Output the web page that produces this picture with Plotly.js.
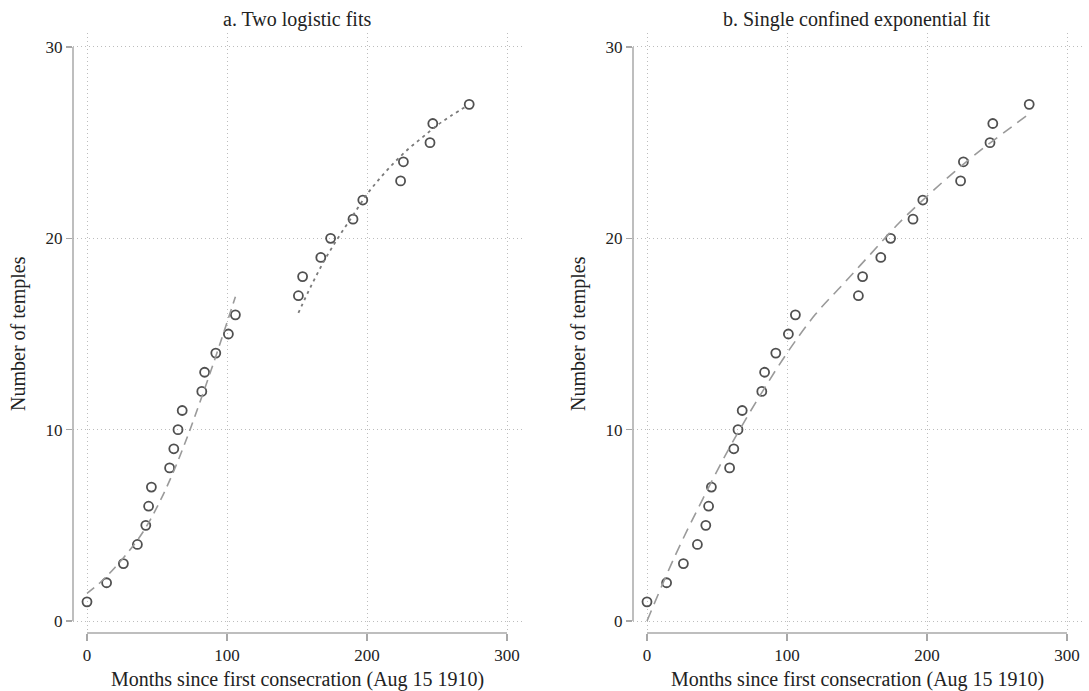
<!DOCTYPE html>
<html>
<head>
<meta charset="utf-8">
<script src="https://cdn.plot.ly/plotly-3.0.1.min.js"></script>
<style>html,body{margin:0;padding:0;background:#fff;}#chart{width:1089px;height:691px;}</style>
</head>
<body>
<div id="chart"></div>
<script>
// Observed data: months since first consecration and cumulative temples
const months  = [0,14,26,36,42,44,46,59,62,65,68,82,84,92,101,106,151,154,167,174,190,197,224,226,245,247,273];
const temples = [1,2,3,4,5,6,7,8,9,10,11,12,13,14,15,16,17,18,19,20,21,22,23,24,25,26,27];

// Panel a: first logistic fit (dashed)
const fit1Months = [0,10,20,30,40,50,60,70,80,90,100,106];
const fit1Values = [1.45,2.05,2.8,3.65,4.65,5.95,7.5,9.3,11.3,13.4,15.6,16.95];
// Panel a: second logistic fit (dotted)
const fit2Months = [151,160,170,180,190,200,210,220,230,240,250,260,272];
const fit2Values = [16.1,17.5,18.9,20.1,21.2,22.3,23.2,24.0,24.7,25.3,25.9,26.4,26.95];
// Panel b: single confined exponential fit (dashed)
const fit3Months = [0,20,40,60,80,100,120,140,160,180,200,220,240,260,272];
const fit3Values = [0,3.4,6.4,9.2,11.7,14.0,16.0,17.6,19.2,20.8,22.2,23.5,24.7,25.8,26.45];

const xTicks = [0,100,200,300];
const yTicks = [0,10,20,30];
const panelTitles = ["a. Two logistic fits","b. Single confined exponential fit"];
const xTitle = "Months since first consecration (Aug 15 1910)";
const yTitle = "Number of temples";

const W = 1089;
const FONT = "Liberation Serif, Times New Roman, serif";
const markerStyle = {symbol:"circle-open", size:9, color:"#505050", line:{width:1.8, color:"#505050"}};

const traces = [
  {x:months, y:temples, xaxis:"x", yaxis:"y", mode:"markers", type:"scatter", marker:markerStyle, showlegend:false, hoverinfo:"skip"},
  {x:fit1Months, y:fit1Values, xaxis:"x", yaxis:"y", mode:"lines", type:"scatter", line:{color:"#9a9a9a", width:1.6, dash:"9px,6px", shape:"spline"}, showlegend:false},
  {x:fit2Months, y:fit2Values, xaxis:"x", yaxis:"y", mode:"lines", type:"scatter", line:{color:"#7a7a7a", width:1.8, dash:"3px,4px", shape:"spline"}, showlegend:false},
  {x:months, y:temples, xaxis:"x2", yaxis:"y2", mode:"markers", type:"scatter", marker:markerStyle, showlegend:false, hoverinfo:"skip"},
  {x:fit3Months, y:fit3Values, xaxis:"x2", yaxis:"y2", mode:"lines", type:"scatter", line:{color:"#9a9a9a", width:1.6, dash:"11px,7px", shape:"spline"}, showlegend:false}
];

const d1 = [73/W, 522/W];
const d2 = [633/W, 1082/W];

function xax(domain, anchor){
  return {domain:domain, anchor:anchor, range:[-10, 310.71], tickvals:xTicks, ticktext:xTicks.map(String),
    showline:false, zeroline:false, showgrid:true, gridcolor:"#bdbdbd", griddash:"1px,3px", gridwidth:1,
    ticks:"outside", ticklen:7, tickwidth:1.5, tickcolor:"#a8a8a8",
    tickfont:{family:FONT, size:17, color:"#222"}, automargin:false, fixedrange:true};
}
function yax(anchor){
  return {domain:[0,1], anchor:anchor, range:[-0.627,30.73], tickvals:yTicks, ticktext:yTicks.map(String),
    showline:false, zeroline:false, showgrid:true, gridcolor:"#bdbdbd", griddash:"1px,3px", gridwidth:1,
    ticks:"outside", ticklen:6, tickwidth:1.5, tickcolor:"#a8a8a8",
    tickfont:{family:FONT, size:17, color:"#222"}, automargin:false, fixedrange:true};
}

const axisLine = {color:"#a8a8a8", width:1.5};
const shapes = [
  {type:"line", xref:"x", yref:"paper", x0:xTicks[0], x1:xTicks[xTicks.length-1], y0:0, y1:0, line:axisLine},
  {type:"line", xref:"paper", yref:"y", x0:d1[0], x1:d1[0], y0:yTicks[0], y1:yTicks[yTicks.length-1], line:axisLine},
  {type:"line", xref:"x2", yref:"paper", x0:xTicks[0], x1:xTicks[xTicks.length-1], y0:0, y1:0, line:axisLine},
  {type:"line", xref:"paper", yref:"y2", x0:d2[0], x1:d2[0], y0:yTicks[0], y1:yTicks[yTicks.length-1], line:axisLine}
];

const tf = {family:FONT, size:20, color:"#222"};
const annotations = [
  {text:panelTitles[0], xref:"x", yref:"paper", x:150, y:1, yshift:14, xanchor:"center", yanchor:"middle", showarrow:false, font:tf},
  {text:panelTitles[1], xref:"x2", yref:"paper", x:150, y:1, yshift:14, xanchor:"center", yanchor:"middle", showarrow:false, font:tf},
  {text:xTitle, xref:"x", yref:"paper", x:150, y:0, yshift:-46, xanchor:"center", yanchor:"middle", showarrow:false, font:tf},
  {text:xTitle, xref:"x2", yref:"paper", x:150, y:0, yshift:-46, xanchor:"center", yanchor:"middle", showarrow:false, font:tf},
  {text:yTitle, xref:"paper", yref:"y", x:19/W, y:15, textangle:-90, xanchor:"center", yanchor:"middle", showarrow:false, font:tf},
  {text:yTitle, xref:"paper", yref:"y2", x:579/W, y:15, textangle:-90, xanchor:"center", yanchor:"middle", showarrow:false, font:tf}
];

const layout = {
  width:1089, height:691,
  margin:{l:0, r:0, t:33, b:58, pad:0},
  paper_bgcolor:"#ffffff", plot_bgcolor:"#ffffff",
  xaxis:xax(d1,"y"), yaxis:yax("x"),
  xaxis2:xax(d2,"y2"), yaxis2:yax("x2"),
  shapes:shapes, annotations:annotations, showlegend:false,
  font:{family:FONT, color:"#222"}
};

Plotly.newPlot("chart", traces, layout, {displayModeBar:false, staticPlot:true});
</script>
</body>
</html>
